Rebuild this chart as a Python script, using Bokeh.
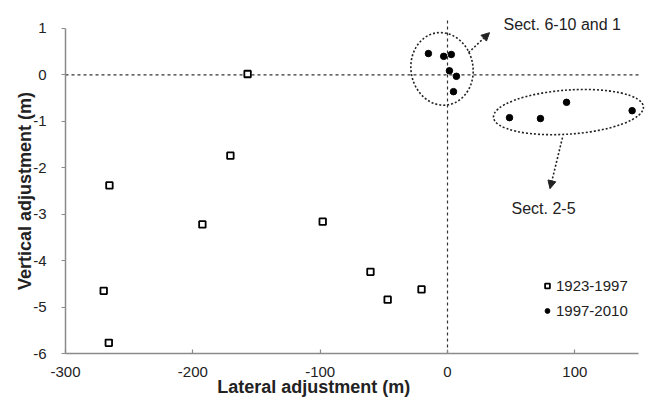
from bokeh.plotting import figure
from bokeh.models import (Label, Arrow, NormalHead, Legend, LegendItem,
                          FixedTicker, Range1d, ColumnDataSource)
from bokeh.embed import file_html
from bokeh.resources import INLINE

# ---- data ----
lat_1923_1997 = [-265.5, -170.5, -157, -192.5, -98, -270, -266, -60.5, -47, -20.4]
vert_1923_1997 = [-2.38, -1.74, 0.02, -3.22, -3.16, -4.65, -5.77, -4.24, -4.84, -4.62]

lat_1997_2010 = [-15, -3, 3, 1.5, 7, 4.7, 48.7, 73, 93.5, 145]
vert_1997_2010 = [0.46, 0.40, 0.44, 0.09, -0.03, -0.36, -0.92, -0.94, -0.59, -0.77]

x_ticks = [-300, -200, -100, 0, 100]
x_tick_labels = ["-300", "-200", "-100", "0", "100"]
y_ticks = [-6, -5, -4, -3, -2, -1, 0, 1]
y_tick_labels = ["-6", "-5", "-4", "-3", "-2", "-1", "0", "1"]

FONT = "Liberation Sans"
TXT = "#222222"

# frame covers the full canvas; axes are pinned to the data box (-300..150, -6..1)
p = figure(width=649, height=404, output_backend="svg", toolbar_location=None,
           x_range=Range1d(-351.05, 158.64), y_range=Range1d(-7.098, 1.603),
           min_border_left=0, min_border_right=0, min_border_top=0, min_border_bottom=0)
p.outline_line_color = None
p.xgrid.visible = False
p.ygrid.visible = False
p.background_fill_color = "white"

for ax in (p.xaxis[0], p.yaxis[0]):
    ax.axis_line_color = "#8a8a8a"
    ax.axis_line_width = 1.5
    ax.major_tick_line_color = "#8a8a8a"
    ax.major_tick_line_width = 1.2
    ax.minor_tick_line_color = None
    ax.major_label_text_font = FONT
    ax.major_label_text_font_size = "15px"
    ax.major_label_text_color = TXT

p.xaxis.ticker = FixedTicker(ticks=x_ticks)
p.yaxis.ticker = FixedTicker(ticks=y_ticks)
p.xaxis.major_label_overrides = dict(zip(x_ticks, x_tick_labels))
p.yaxis.major_label_overrides = dict(zip(y_ticks, y_tick_labels))
p.xaxis.fixed_location = -6
p.yaxis.fixed_location = -300
p.xaxis.bounds = (-300, 150)
p.yaxis.bounds = (-6, 1)
p.xaxis.major_tick_in = 4
p.xaxis.major_tick_out = 0
p.yaxis.major_tick_in = 0
p.yaxis.major_tick_out = 4
p.xaxis.major_label_standoff = 13
p.yaxis.major_label_standoff = 15

p.yaxis.axis_label = "Vertical adjustment (m)"
p.yaxis.axis_label_text_font = FONT
p.yaxis.axis_label_text_font_style = "bold"
p.yaxis.axis_label_text_font_size = "18px"
p.yaxis.axis_label_text_color = TXT
p.yaxis.axis_label_standoff = -5

# x axis title placed like the original (left of centre)
p.add_layout(Label(x=-105, y=-6.73, text="Lateral adjustment (m)", text_align="center",
                   text_baseline="middle", text_font=FONT, text_font_style="bold",
                   text_font_size="18px", text_color=TXT))

# reference lines (dashed) through the origin
p.segment(x0=[-300], y0=[0], x1=[150], y1=[0], line_color="#333333",
          line_dash="3 3", line_width=1.2)
p.segment(x0=[0], y0=[-6], x1=[0], y1=[1.22], line_color="#333333",
          line_dash="3 3", line_width=1.2)

# group ellipses
p.ellipse(x=-4.3, y=0.13, width=48.7, height=1.57, angle=0.17,
          fill_color=None, line_color="#222222", line_dash="2 2", line_width=1.6)
p.ellipse(x=95, y=-0.80, width=118, height=0.95, angle=0.07,
          fill_color=None, line_color="#222222", line_dash="2 2", line_width=1.6)

# arrows
p.add_layout(Arrow(x_start=16.5, y_start=0.48, x_end=33, y_end=0.91,
                   line_color="#222222", line_dash="2 2", line_width=1.6,
                   end=NormalHead(size=8, fill_color="#222222", line_color="#222222")))
p.add_layout(Arrow(x_start=90.3, y_start=-1.35, x_end=80.5, y_end=-2.45,
                   line_color="#222222", line_dash="2 2", line_width=1.6,
                   end=NormalHead(size=8, fill_color="#222222", line_color="#222222")))

p.add_layout(Label(x=44, y=1.086, text="Sect. 6-10 and 1", text_align="left",
                   text_baseline="alphabetic", text_font=FONT, text_font_size="16px",
                   text_color=TXT))
p.add_layout(Label(x=50.3, y=-2.87, text="Sect. 2-5", text_align="left",
                   text_baseline="alphabetic", text_font=FONT, text_font_size="16px",
                   text_color=TXT))

# data points
src1 = ColumnDataSource(dict(x=lat_1923_1997, y=vert_1923_1997))
src2 = ColumnDataSource(dict(x=lat_1997_2010, y=vert_1997_2010))
r1 = p.scatter("x", "y", source=src1, marker="square", size=6.5,
               fill_color="white", line_color="black", line_width=1.8)
r2 = p.scatter("x", "y", source=src2, marker="circle", size=6.5,
               fill_color="black", line_color="black")

legend = Legend(items=[LegendItem(label="1923-1997", renderers=[r1]),
                       LegendItem(label="1997-2010", renderers=[r2])],
                location=(541, 85), orientation="vertical",
                border_line_color=None, background_fill_alpha=0,
                padding=0, margin=0, spacing=8,
                glyph_width=12, glyph_height=15, label_height=15,
                label_standoff=3,
                label_text_font=FONT, label_text_font_size="15px",
                label_text_color=TXT)
p.add_layout(legend)

open("out.html", "w").write(file_html(p, INLINE))
